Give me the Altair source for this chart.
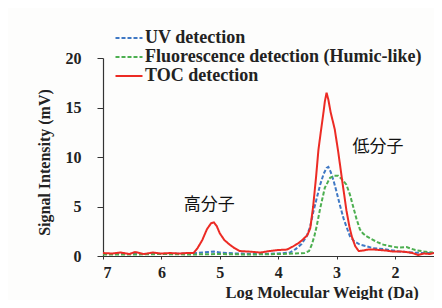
import altair as alt
import pandas as pd

series_names = ["UV detection", "Fluorescence detection (Humic-like)", "TOC detection"]
series_colors = ["#3f78c4", "#4caf50", "#ec2b24"]

toc_x = [7.0, 6.85, 6.7, 6.55, 6.45, 6.3, 6.15, 6.0, 5.85, 5.7, 5.55, 5.45, 5.38, 5.3, 5.22, 5.15, 5.1, 5.05, 5.0, 4.92, 4.83, 4.75, 4.66, 4.5, 4.3, 4.15, 4.0, 3.85, 3.75, 3.65, 3.58, 3.5, 3.45, 3.4, 3.35, 3.31, 3.27, 3.23, 3.2, 3.17, 3.14, 3.1, 3.03, 2.97, 2.9, 2.83, 2.78, 2.74, 2.68, 2.62, 2.55, 2.46, 2.35, 2.26, 2.15, 2.03, 1.9, 1.8, 1.7, 1.6, 1.5, 1.4, 1.33]
toc_y = [0.3, 0.25, 0.35, 0.2, 0.4, 0.2, 0.35, 0.25, 0.3, 0.25, 0.3, 0.3, 0.8, 1.6, 2.7, 3.3, 3.4, 3.0, 2.3, 1.6, 1.15, 0.8, 0.5, 0.45, 0.35, 0.5, 0.6, 0.65, 0.95, 1.3, 1.65, 2.1, 2.8, 5.0, 8.0, 10.7, 12.5, 14.2, 15.6, 16.5, 15.8, 14.5, 12.8, 10.5, 7.5, 4.6, 3.0, 2.0, 1.0, 0.5, 0.55, 0.65, 0.65, 0.6, 0.55, 0.45, 0.45, 0.4, 0.3, 0.1, 0.25, 0.2, 0.3]

uv_x = [7.0, 6.5, 6.0, 5.5, 5.2, 5.1, 5.0, 4.7, 4.3, 4.0, 3.8, 3.7, 3.6, 3.51, 3.45, 3.4, 3.34, 3.28, 3.22, 3.17, 3.14, 3.1, 3.05, 3.0, 2.94, 2.88, 2.82, 2.77, 2.7, 2.6, 2.5, 2.38, 2.2, 1.92, 1.7, 1.5, 1.33]
uv_y = [0.2, 0.2, 0.2, 0.25, 0.4, 0.45, 0.35, 0.25, 0.2, 0.25, 0.35, 0.7, 1.2, 2.0, 3.0, 4.4, 5.8, 7.2, 8.3, 8.9, 9.0, 8.5, 7.6, 6.5, 5.1, 3.8, 2.8, 2.0, 1.5, 1.15, 1.0, 0.8, 0.7, 0.45, 0.35, 0.3, 0.3]

fl_x = [7.0, 6.5, 6.0, 5.5, 5.0, 4.5, 4.0, 3.7, 3.55, 3.47, 3.42, 3.38, 3.34, 3.28, 3.2, 3.11, 3.04, 2.97, 2.9, 2.83, 2.77, 2.72, 2.66, 2.6, 2.55, 2.49, 2.4, 2.3, 2.2, 2.05, 1.92, 1.8, 1.65, 1.5, 1.35]
fl_y = [0.15, 0.15, 0.2, 0.15, 0.2, 0.15, 0.2, 0.25, 0.3, 0.5, 1.2, 2.0, 3.0, 4.8, 6.9, 7.9, 8.1, 8.1, 7.7, 7.2, 6.2, 5.1, 3.8, 2.7, 2.3, 2.0, 1.7, 1.4, 1.15, 0.95, 0.85, 0.9, 0.6, 0.45, 0.35]

x_ticks = [7, 6, 5, 4, 3, 2]
y_ticks = [0, 5, 10, 15, 20]

ann_text = ["高分子", "低分子"]
ann_x = [5.18, 2.29]
ann_y = [5.2, 11.0]

rows = []
for name, xs, ys in [(series_names[0], uv_x, uv_y), (series_names[1], fl_x, fl_y), (series_names[2], toc_x, toc_y)]:
    for i, (a, b) in enumerate(zip(xs, ys)):
        rows.append({"series": name, "x": a, "y": b, "i": i})
df = pd.DataFrame(rows)
ann = pd.DataFrame({"t": ann_text, "x": ann_x, "y": ann_y})

xscale = alt.Scale(domain=[1.33, 7], reverse=True, nice=False, zero=False)
yscale = alt.Scale(domain=[0, 20], nice=False)

serif = "Liberation Serif"

legend = alt.Legend(title=None, orient="none", legendX=16, legendY=-30,
                    symbolType="M-1.5,0L1.5,0", symbolSize=324, symbolStrokeWidth=2,
                    labelFont=serif, labelFontSize=18, labelFontWeight="bold",
                    labelColor="#222", rowPadding=0, labelOffset=6, labelLimit=0)

lines = alt.Chart(df).mark_line(strokeWidth=2, clip=True).encode(
    x=alt.X("x:Q", scale=xscale,
            axis=alt.Axis(values=x_ticks, format="d", title="Log Molecular Weight (Da)", grid=False,
                          titleX=122, titleY=36, titleAnchor="start", titleAlign="left",
                          titleBaseline="middle", titleFontSize=16.5,
                          labelPadding=5, tickSize=3)),
    y=alt.Y("y:Q", scale=yscale,
            axis=alt.Axis(values=y_ticks, title="Signal Intensity (mV)", grid=False,
                          tickSize=6, labelPadding=16, titlePadding=13,
                          titleFontSize=16, titleY=104)),
    color=alt.Color("series:N", scale=alt.Scale(domain=series_names, range=series_colors),
                    legend=legend),
    strokeDash=alt.StrokeDash("series:N", scale=alt.Scale(domain=series_names, range=[[4, 2], [4, 2], [1, 0]]),
                              legend=legend),
    detail="series:N",
    order="i:Q",
)

texts = alt.Chart(ann).mark_text(font="Noto Sans CJK JP", fontSize=17, color="#111").encode(
    x=alt.X("x:Q", scale=xscale),
    y=alt.Y("y:Q", scale=yscale),
    text="t:N",
)

chart = alt.layer(lines, texts).properties(
    width=331, height=198,
    autosize=alt.AutoSizeParams(type="none"),
    padding={"left": 95, "top": 50, "right": 0, "bottom": 44},
    background="#fdfdfc",
).configure_view(stroke=None).configure_axis(
    labelFont=serif, labelFontSize=16, labelFontWeight="bold", labelColor="#222",
    titleFont=serif, titleFontWeight="bold", titleColor="#222",
    domainColor="#333", tickColor="#333", domainWidth=1.2,
)

chart.save("out.html", embed_options={"renderer": "svg", "actions": False})
